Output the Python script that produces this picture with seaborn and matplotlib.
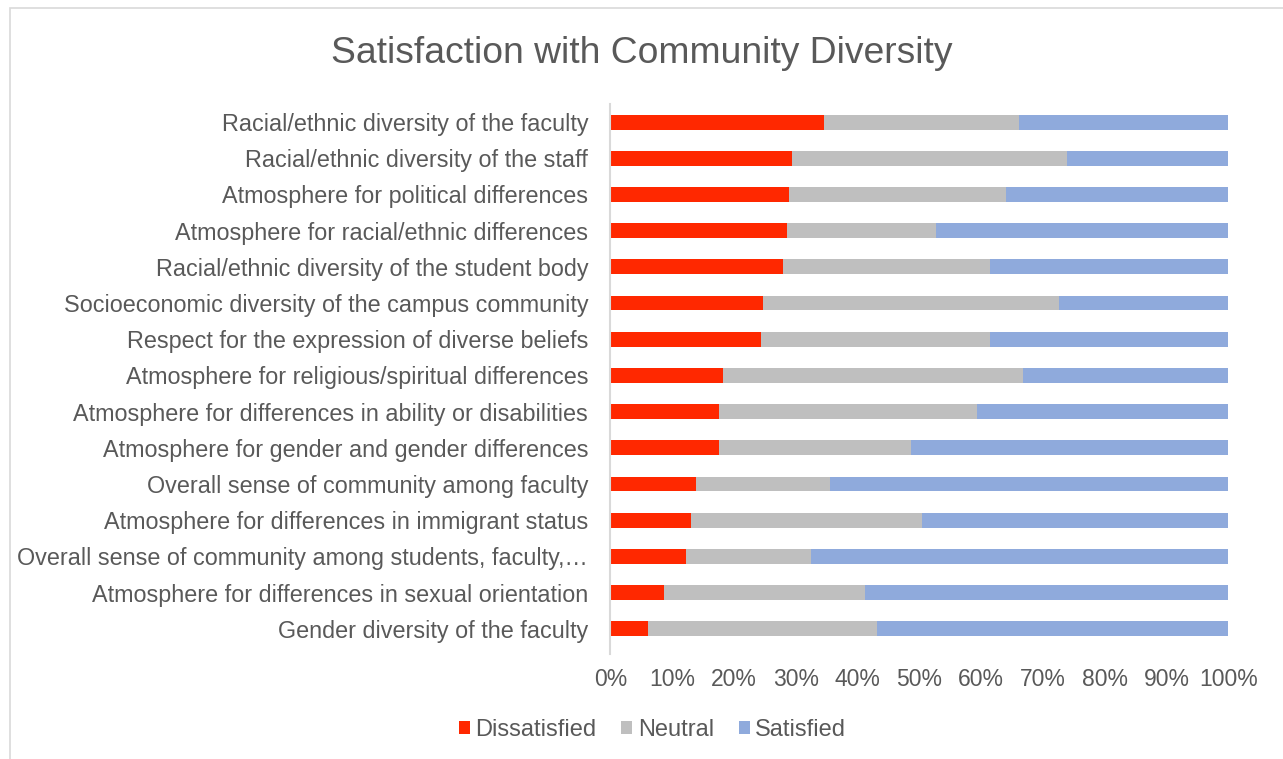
import matplotlib
matplotlib.use("Agg")
import matplotlib.pyplot as plt
from matplotlib.patches import Rectangle, Patch
import seaborn as sns
import pandas as pd

categories = [
    "Racial/ethnic diversity of the faculty",
    "Racial/ethnic diversity of the staff",
    "Atmosphere for political differences",
    "Atmosphere for racial/ethnic differences",
    "Racial/ethnic diversity of the student body",
    "Socioeconomic diversity of the campus community",
    "Respect for the expression of diverse beliefs",
    "Atmosphere for religious/spiritual differences",
    "Atmosphere for differences in ability or disabilities",
    "Atmosphere for gender and gender differences",
    "Overall sense of community among faculty",
    "Atmosphere for differences in immigrant status",
    "Overall sense of community among students, faculty,\u2026",
    "Atmosphere for differences in sexual orientation",
    "Gender diversity of the faculty",
]
dissatisfied = [34.6, 29.4, 28.9, 28.5, 27.9, 24.7, 24.4, 18.2, 17.6, 17.6, 13.8, 13.0, 12.2, 8.6, 6.0]
neutral      = [31.5, 44.5, 35.2, 24.2, 33.5, 47.9, 37.0, 48.5, 41.7, 31.1, 21.7, 37.4, 20.2, 32.6, 37.2]
satisfied    = [33.9, 26.1, 35.9, 47.3, 38.6, 27.4, 38.6, 33.3, 40.7, 51.3, 64.5, 49.6, 67.6, 58.8, 56.8]
series_names = ["Dissatisfied", "Neutral", "Satisfied"]
colors = ["#FF2800", "#BFBFBF", "#8FAADC"]
x_ticks = [0, 10, 20, 30, 40, 50, 60, 70, 80, 90, 100]

sns.set_theme(style="white")
plt.rcParams["font.family"] = ["Liberation Sans", "DejaVu Sans"]

df = pd.DataFrame({"category": categories,
                   "Dissatisfied": dissatisfied,
                   "Neutral": neutral,
                   "Satisfied": satisfied})
# stacked bars: draw cumulative totals, widest first
df["cum_d"] = df["Dissatisfied"]
df["cum_n"] = df["cum_d"] + df["Neutral"]
df["cum_s"] = df["cum_n"] + df["Satisfied"]

fig = plt.figure(figsize=(12.83, 7.59), dpi=100)
ax = fig.add_axes([0.4758, 0.1476, 0.4815, 0.7154])

for col, c in zip(["cum_s", "cum_n", "cum_d"], colors[::-1]):
    sns.barplot(data=df, x=col, y="category", orient="h", color=c,
                saturation=1, width=0.41, ax=ax, linewidth=0)

ax.set_xlim(0, 100)
ax.set_xticks(x_ticks)
ax.set_xticklabels([f"{t}%" for t in x_ticks])
ax.set_xlabel("")
ax.set_ylabel("")
for s in ["top", "right", "bottom"]:
    ax.spines[s].set_visible(False)
ax.spines["left"].set_color("#D9D9D9")
ax.spines["left"].set_linewidth(1.5)
ax.spines["left"].set_bounds(14.7, -0.5)
ax.tick_params(axis="x", length=0, labelsize=16.5, pad=15)
ax.tick_params(axis="y", length=0, labelsize=16.8, pad=16)
for lbl in ax.get_xticklabels() + ax.get_yticklabels():
    lbl.set_color("#595959")

fig.text(0.5, 0.93, "Satisfaction with Community Diversity", ha="center", va="center",
         fontsize=26.8, color="#595959")

handles = [Patch(facecolor=c, edgecolor="none") for c in colors]
fig.legend(handles, series_names, loc="center", bbox_to_anchor=(0.5086, 0.038), ncol=3,
           frameon=False, fontsize=17, handlelength=0.47, handleheight=0.47,
           handletextpad=0.22, columnspacing=1.06, labelcolor="#595959")

fig.patches.append(Rectangle((0.008, -0.01), 1.2, 0.999, transform=fig.transFigure,
                             fill=False, edgecolor="#D9D9D9", linewidth=1.2))

fig.savefig("out.png", dpi=100)
